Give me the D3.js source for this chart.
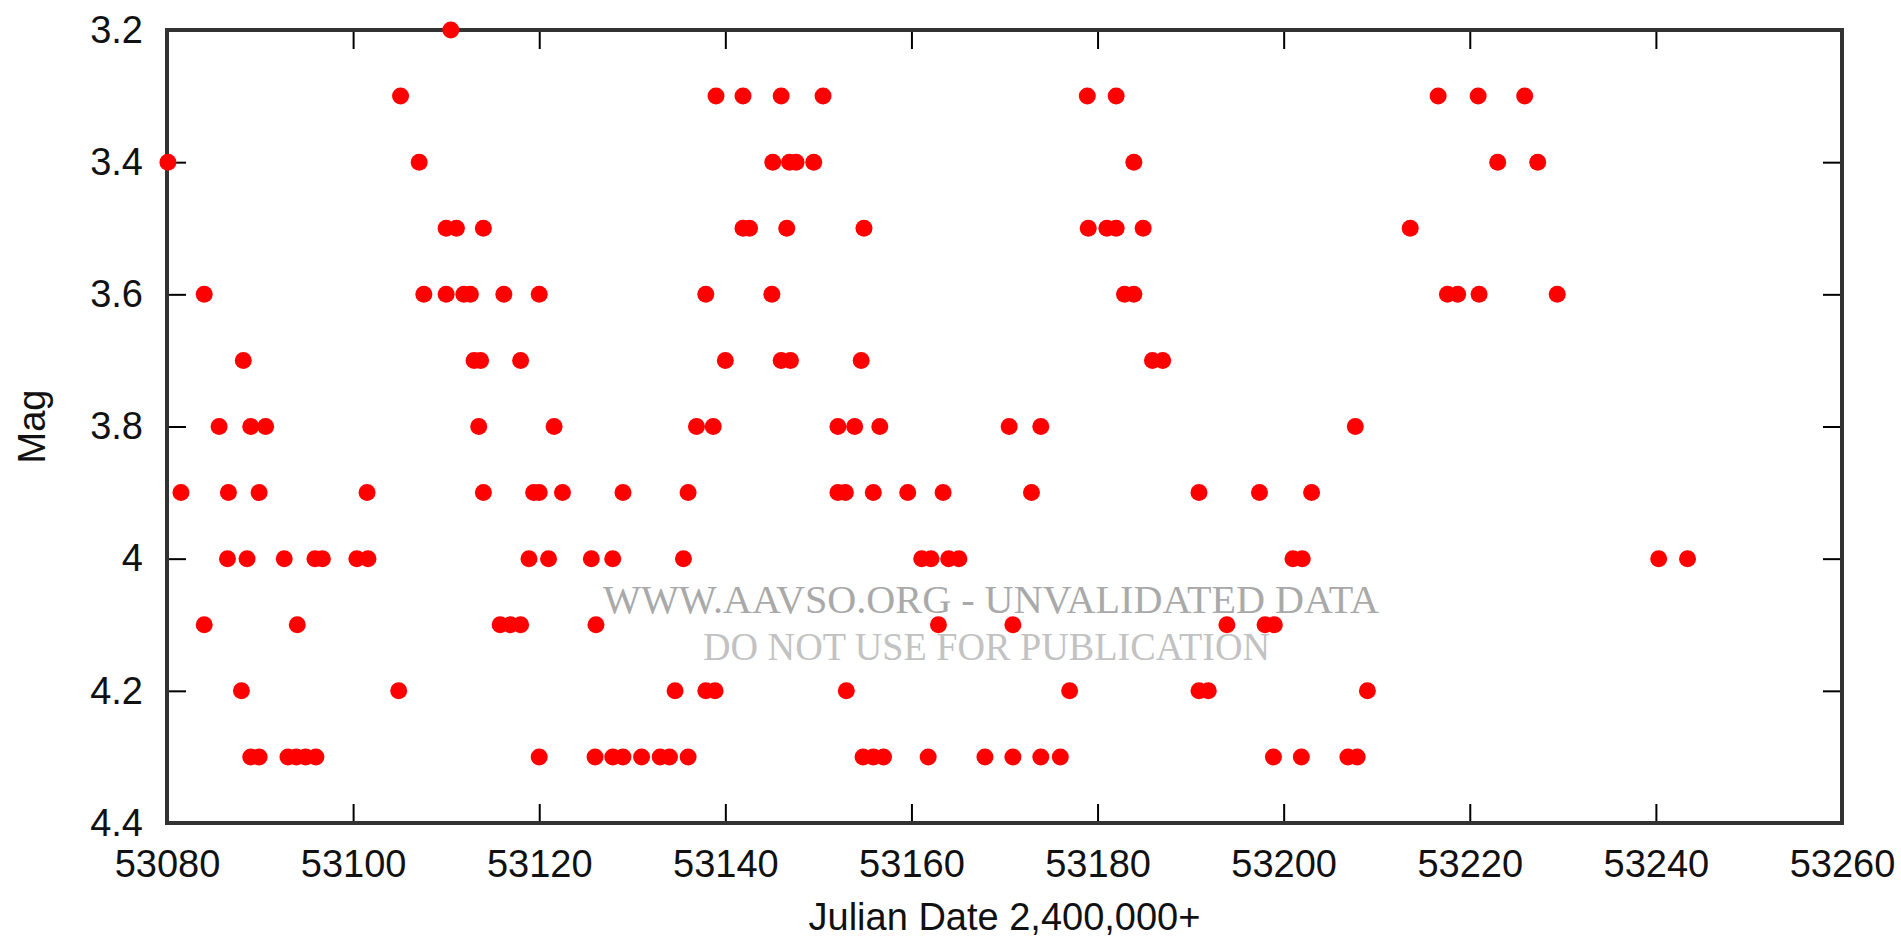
<!DOCTYPE html>
<html>
<head>
  <meta charset="utf-8">
  <title>AAVSO light curve</title>
  <style>
    body { margin: 0; background: #fff; }
    svg { display: block; }
    text { font-family: "Liberation Sans", Arial, Helvetica, sans-serif; }
  </style>
  <script src="https://d3js.org/d3.v7.min.js"></script>
</head>
<body>
  <div id="chart"></div>
  <script>
    // observations: julian date (2,400,000+) and visual magnitude, row by row
    const julianDates = [
      53110.5,
      53105.1, 53139.0, 53141.9, 53146.0, 53150.5, 53178.9, 53182.0, 53216.6, 53220.9, 53225.9,
      53080.1, 53107.1, 53145.1, 53146.9, 53147.6, 53149.5, 53183.9, 53223.0, 53227.3,
      53110.0, 53111.1, 53114.0, 53141.9, 53142.6, 53146.6, 53154.9, 53179.0, 53181.0, 53182.0, 53184.9, 53213.6,
      53084.0, 53107.6, 53110.0, 53111.9, 53112.6, 53116.2, 53120.0, 53137.9, 53145.0, 53182.9, 53183.9, 53217.6, 53218.7, 53221.0, 53229.4,
      53088.2, 53113.0, 53113.7, 53118.0, 53140.0, 53146.0, 53147.0, 53154.6, 53185.9, 53187.0,
      53085.6, 53089.0, 53090.6, 53113.5, 53121.6, 53136.9, 53138.7, 53152.1, 53153.9, 53156.6, 53170.5, 53173.9, 53207.7,
      53081.5, 53086.6, 53089.9, 53101.5, 53114.0, 53119.4, 53120.0, 53122.5, 53129.0, 53136.0, 53152.1, 53152.9, 53155.9, 53159.6, 53163.4, 53172.9, 53190.9, 53197.4, 53203.0,
      53086.5, 53088.6, 53092.6, 53095.9, 53096.7, 53100.4, 53101.6, 53118.9, 53121.0, 53125.6, 53127.9, 53135.5, 53161.1, 53162.1, 53164.0, 53165.1, 53201.0, 53202.0, 53240.3, 53243.4,
      53084.0, 53094.0, 53115.8, 53116.9, 53118.0, 53126.1, 53162.9, 53170.9, 53193.9, 53198.0, 53199.0,
      53088.0, 53104.9, 53134.6, 53137.9, 53138.9, 53153.0, 53177.0, 53190.9, 53191.9, 53209.0,
      53089.0, 53089.9, 53093.0, 53093.9, 53094.9, 53096.0, 53120.0, 53126.0, 53127.9, 53129.0, 53131.0, 53133.0, 53134.0, 53136.0,
      53154.8, 53155.9, 53157.0, 53161.8, 53167.9, 53170.9, 53173.9, 53176.0, 53198.9, 53201.9, 53206.9, 53207.9
    ];
    const magnitudes = [
      3.2,
      3.3, 3.3, 3.3, 3.3, 3.3, 3.3, 3.3, 3.3, 3.3, 3.3,
      3.4, 3.4, 3.4, 3.4, 3.4, 3.4, 3.4, 3.4, 3.4,
      3.5, 3.5, 3.5, 3.5, 3.5, 3.5, 3.5, 3.5, 3.5, 3.5, 3.5, 3.5,
      3.6, 3.6, 3.6, 3.6, 3.6, 3.6, 3.6, 3.6, 3.6, 3.6, 3.6, 3.6, 3.6, 3.6, 3.6,
      3.7, 3.7, 3.7, 3.7, 3.7, 3.7, 3.7, 3.7, 3.7, 3.7,
      3.8, 3.8, 3.8, 3.8, 3.8, 3.8, 3.8, 3.8, 3.8, 3.8, 3.8, 3.8, 3.8,
      3.9, 3.9, 3.9, 3.9, 3.9, 3.9, 3.9, 3.9, 3.9, 3.9, 3.9, 3.9, 3.9, 3.9, 3.9, 3.9, 3.9, 3.9, 3.9,
      4.0, 4.0, 4.0, 4.0, 4.0, 4.0, 4.0, 4.0, 4.0, 4.0, 4.0, 4.0, 4.0, 4.0, 4.0, 4.0, 4.0, 4.0, 4.0, 4.0,
      4.1, 4.1, 4.1, 4.1, 4.1, 4.1, 4.1, 4.1, 4.1, 4.1, 4.1,
      4.2, 4.2, 4.2, 4.2, 4.2, 4.2, 4.2, 4.2, 4.2, 4.2,
      4.3, 4.3, 4.3, 4.3, 4.3, 4.3, 4.3, 4.3, 4.3, 4.3, 4.3, 4.3, 4.3, 4.3,
      4.3, 4.3, 4.3, 4.3, 4.3, 4.3, 4.3, 4.3, 4.3, 4.3, 4.3, 4.3
    ];

    const xTicks = [53080, 53100, 53120, 53140, 53160, 53180, 53200, 53220, 53240, 53260];
    const yTicks = [3.2, 3.4, 3.6, 3.8, 4.0, 4.2, 4.4];
    const yTickLabels = ["3.2", "3.4", "3.6", "3.8", "4", "4.2", "4.4"];

    const data = julianDates.map((jd, i) => ({ jd: jd, mag: magnitudes[i] }));

    const W = 1901, H = 940;
    const margin = { top: 30, right: 59, bottom: 117, left: 167 };
    const width = W - margin.left - margin.right,
          height = H - margin.top - margin.bottom;

    const svg = d3.select("#chart").append("svg")
      .attr("width", W)
      .attr("height", H);

    svg.append("rect")
      .attr("width", W)
      .attr("height", H)
      .style("fill", "#fff");

    const g = svg.append("g")
      .attr("transform", `translate(${margin.left},${margin.top})`);

    const x = d3.scaleLinear().domain([53080, 53260]).range([0, width]);
    const y = d3.scaleLinear().domain([3.2, 4.4]).range([0, height]); // magnitudes grow downward

    const tick = 19;

    // bottom + left axes with labels, ticks pointing inward
    const xAxis = g.append("g")
      .attr("transform", `translate(0,${height})`)
      .call(d3.axisBottom(x).tickValues(xTicks).tickFormat(d3.format("d")).tickSize(-tick).tickPadding(27));

    const yAxis = g.append("g")
      .call(d3.axisLeft(y).tickValues(yTicks).tickFormat((d, i) => yTickLabels[i]).tickSize(-tick).tickPadding(24));

    // mirror ticks on top and right
    const xTop = g.append("g")
      .call(d3.axisTop(x).tickValues(xTicks).tickFormat("").tickSize(-tick));
    const yRight = g.append("g")
      .attr("transform", `translate(${width},0)`)
      .call(d3.axisRight(y).tickValues(yTicks).tickFormat("").tickSize(-tick));

    [xAxis, yAxis, xTop, yRight].forEach(a => {
      a.select(".domain").remove();
      a.selectAll(".tick line").style("stroke", "#000").style("stroke-width", 2);
      a.selectAll("text")
        .style("font-size", "38px")
        .style("fill", "#111");
    });

    // frame
    g.append("rect")
      .attr("x", 0)
      .attr("y", 0)
      .attr("width", width)
      .attr("height", height)
      .style("fill", "none")
      .style("stroke", "#333")
      .style("stroke-width", 4);

    // axis titles
    svg.append("text")
      .attr("text-anchor", "middle")
      .attr("x", margin.left + width / 2)
      .attr("y", 930)
      .style("font-size", "38px")
      .style("fill", "#111")
      .text("Julian Date 2,400,000+");

    svg.append("text")
      .attr("text-anchor", "middle")
      .attr("transform", "rotate(-90)")
      .attr("x", -(margin.top + height / 2))
      .attr("y", 45)
      .style("font-size", "38px")
      .style("fill", "#111")
      .text("Mag");

    // watermark
    svg.append("text")
      .attr("x", 603)
      .attr("y", 613)
      .attr("textLength", 776)
      .attr("lengthAdjust", "spacingAndGlyphs")
      .style("font-family", "'Liberation Serif', 'Times New Roman', serif")
      .style("font-size", "41px")
      .style("fill", "#a9a9a9")
      .text("WWW.AAVSO.ORG - UNVALIDATED DATA");

    svg.append("text")
      .attr("x", 703)
      .attr("y", 660)
      .attr("textLength", 567)
      .attr("lengthAdjust", "spacingAndGlyphs")
      .style("font-family", "'Liberation Serif', 'Times New Roman', serif")
      .style("font-size", "41px")
      .style("fill", "#c2c2c2")
      .text("DO NOT USE FOR PUBLICATION");

    // observations
    g.selectAll(".obs")
      .data(data)
      .enter()
      .append("circle")
      .attr("class", "obs")
      .attr("cx", d => x(d.jd))
      .attr("cy", d => y(d.mag))
      .attr("r", 8.5)
      .style("fill", "#ff0000");
  </script>
</body>
</html>
